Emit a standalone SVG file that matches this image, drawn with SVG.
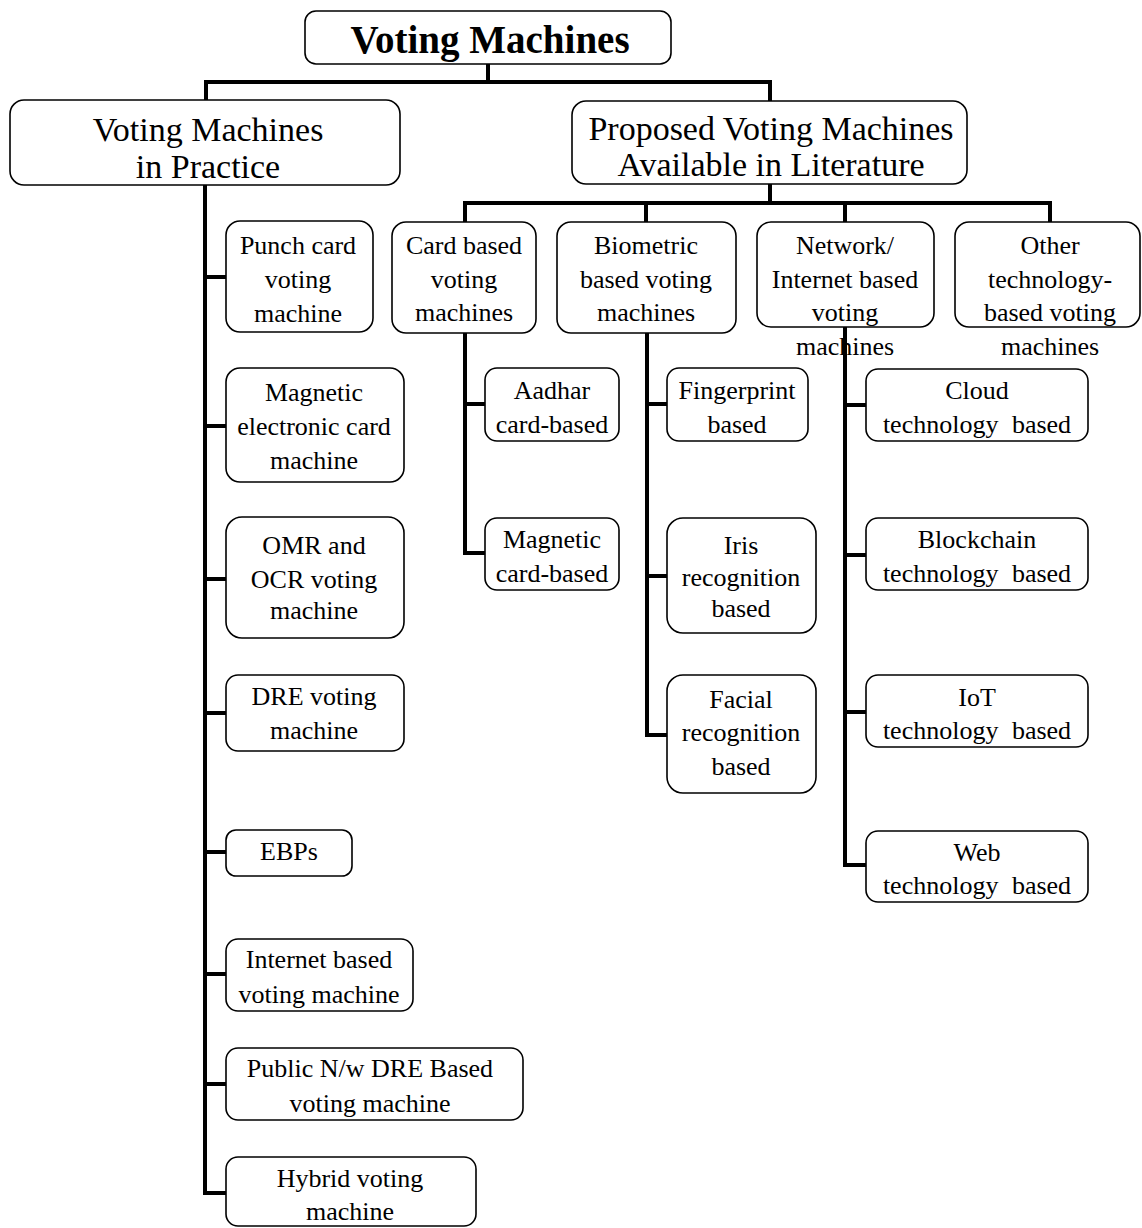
<svg xmlns="http://www.w3.org/2000/svg" width="1142" height="1228" viewBox="0 0 1142 1228">
<style>
  .box { fill: #ffffff; stroke: #000000; stroke-width: 1.6; }
  .t { font-family: "Liberation Serif", "Times New Roman", serif; font-size: 26px; fill: #000000; text-anchor: middle; }
  .tw { word-spacing: 7px; }
  .t1 { font-family: "Liberation Serif", "Times New Roman", serif; font-size: 34px; fill: #000000; text-anchor: middle; }
  .t0 { font-family: "Liberation Serif", "Times New Roman", serif; font-size: 39px; font-weight: bold; fill: #000000; text-anchor: middle; }
  .c { fill: none; stroke: #000000; stroke-width: 4; stroke-linecap: butt; stroke-linejoin: miter; }
</style>
<rect width="1142" height="1228" fill="#ffffff"/>

<g id="nodes">
  <g id="root">
    <rect class="box" x="305" y="11" width="366" height="53" rx="11"/>
    <text class="t0" x="490" y="53">Voting Machines</text>
  </g>
  <g id="practice">
    <rect class="box" x="10" y="100" width="390" height="85" rx="14"/>
    <text class="t1" x="208" y="141">Voting Machines</text>
    <text class="t1" x="208" y="178">in Practice</text>
  </g>
  <g id="proposed">
    <rect class="box" x="572" y="101" width="395" height="83" rx="14"/>
    <text class="t1" x="771" y="140">Proposed Voting Machines</text>
    <text class="t1" x="771" y="176">Available in Literature</text>
  </g>

  <g id="punch">
    <rect class="box" x="226" y="221" width="147" height="111" rx="14"/>
    <text class="t" x="298" y="254">Punch card</text>
    <text class="t" x="298" y="288">voting</text>
    <text class="t" x="298" y="322">machine</text>
  </g>
  <g id="magnetic-electronic">
    <rect class="box" x="226" y="368" width="178" height="114" rx="14"/>
    <text class="t" x="314" y="401">Magnetic</text>
    <text class="t" x="314" y="435">electronic card</text>
    <text class="t" x="314" y="469">machine</text>
  </g>
  <g id="omr">
    <rect class="box" x="226" y="517" width="178" height="121" rx="16"/>
    <text class="t" x="314" y="554">OMR and</text>
    <text class="t" x="314" y="588">OCR voting</text>
    <text class="t" x="314" y="619">machine</text>
  </g>
  <g id="dre">
    <rect class="box" x="226" y="675" width="178" height="76" rx="12"/>
    <text class="t" x="314" y="705">DRE voting</text>
    <text class="t" x="314" y="739">machine</text>
  </g>
  <g id="ebps">
    <rect class="box" x="226" y="830" width="126" height="46" rx="10"/>
    <text class="t" x="289" y="860">EBPs</text>
  </g>
  <g id="internet-machine">
    <rect class="box" x="226" y="939" width="187" height="72" rx="12"/>
    <text class="t" x="319" y="968">Internet based</text>
    <text class="t" x="319" y="1003">voting machine</text>
  </g>
  <g id="public-dre">
    <rect class="box" x="226" y="1048" width="297" height="72" rx="12"/>
    <text class="t" x="370" y="1077">Public N/w DRE Based</text>
    <text class="t" x="370" y="1112">voting machine</text>
  </g>
  <g id="hybrid">
    <rect class="box" x="226" y="1157" width="250" height="69" rx="12"/>
    <text class="t" x="350" y="1187">Hybrid voting</text>
    <text class="t" x="350" y="1220">machine</text>
  </g>

  <g id="card-based">
    <rect class="box" x="392" y="222" width="144" height="111" rx="14"/>
    <text class="t" x="464" y="254">Card based</text>
    <text class="t" x="464" y="288">voting</text>
    <text class="t" x="464" y="321">machines</text>
  </g>
  <g id="biometric">
    <rect class="box" x="557" y="222" width="179" height="111" rx="14"/>
    <text class="t" x="646" y="254">Biometric</text>
    <text class="t" x="646" y="288">based voting</text>
    <text class="t" x="646" y="321">machines</text>
  </g>
  <g id="network">
    <rect class="box" x="757" y="222" width="177" height="105" rx="14"/>
    <text class="t" x="845" y="254">Network/</text>
    <text class="t" x="845" y="288">Internet based</text>
    <text class="t" x="845" y="321">voting</text>
    <text class="t" x="845" y="355">machines</text>
  </g>
  <g id="other">
    <rect class="box" x="955" y="222" width="185" height="105" rx="14"/>
    <text class="t" x="1050" y="254">Other</text>
    <text class="t" x="1050" y="288">technology-</text>
    <text class="t" x="1050" y="321">based voting</text>
    <text class="t" x="1050" y="355">machines</text>
  </g>

  <g id="aadhar">
    <rect class="box" x="485" y="368" width="134" height="73" rx="12"/>
    <text class="t" x="552" y="399">Aadhar</text>
    <text class="t" x="552" y="433">card-based</text>
  </g>
  <g id="magnetic-card">
    <rect class="box" x="485" y="518" width="134" height="72" rx="12"/>
    <text class="t" x="552" y="548">Magnetic</text>
    <text class="t" x="552" y="582">card-based</text>
  </g>
  <g id="fingerprint">
    <rect class="box" x="667" y="368" width="141" height="73" rx="12"/>
    <text class="t" x="737" y="399">Fingerprint</text>
    <text class="t" x="737" y="433">based</text>
  </g>
  <g id="iris">
    <rect class="box" x="667" y="518" width="149" height="115" rx="16"/>
    <text class="t" x="741" y="554">Iris</text>
    <text class="t" x="741" y="586">recognition</text>
    <text class="t" x="741" y="617">based</text>
  </g>
  <g id="facial">
    <rect class="box" x="667" y="675" width="149" height="118" rx="16"/>
    <text class="t" x="741" y="708">Facial</text>
    <text class="t" x="741" y="741">recognition</text>
    <text class="t" x="741" y="775">based</text>
  </g>

  <g id="cloud">
    <rect class="box" x="866" y="369" width="222" height="72" rx="12"/>
    <text class="t" x="977" y="399">Cloud</text>
    <text class="t tw" x="977" y="433">technology based</text>
  </g>
  <g id="blockchain">
    <rect class="box" x="866" y="518" width="222" height="72" rx="12"/>
    <text class="t" x="977" y="548">Blockchain</text>
    <text class="t tw" x="977" y="582">technology based</text>
  </g>
  <g id="iot">
    <rect class="box" x="866" y="675" width="222" height="72" rx="12"/>
    <text class="t" x="977" y="706">IoT</text>
    <text class="t tw" x="977" y="739">technology based</text>
  </g>
  <g id="web">
    <rect class="box" x="866" y="831" width="222" height="71" rx="12"/>
    <text class="t" x="977" y="861">Web</text>
    <text class="t tw" x="977" y="894">technology based</text>
  </g>
</g>

<g id="connectors">
  <path class="c" d="M488 64 V82 M206 100 V82 H770 V101"/>
  <path class="c" d="M205 185 V1193 H226 M205 277 H226 M205 426 H226 M205 579 H226 M205 713 H226 M205 852 H226 M205 974 H226 M205 1084 H226"/>
  <path class="c" d="M770 184 V203 M465 222 V203 H1050 V222 M646 203 V222 M845 203 V222"/>
  <path class="c" d="M465 333 V553 H485 M465 404 H485"/>
  <path class="c" d="M647 333 V735 H667 M647 404 H667 M647 576 H667"/>
  <path class="c" d="M845 327 V865 H866 M845 405 H866 M845 555 H866 M845 712 H866"/>
</g>
</svg>
